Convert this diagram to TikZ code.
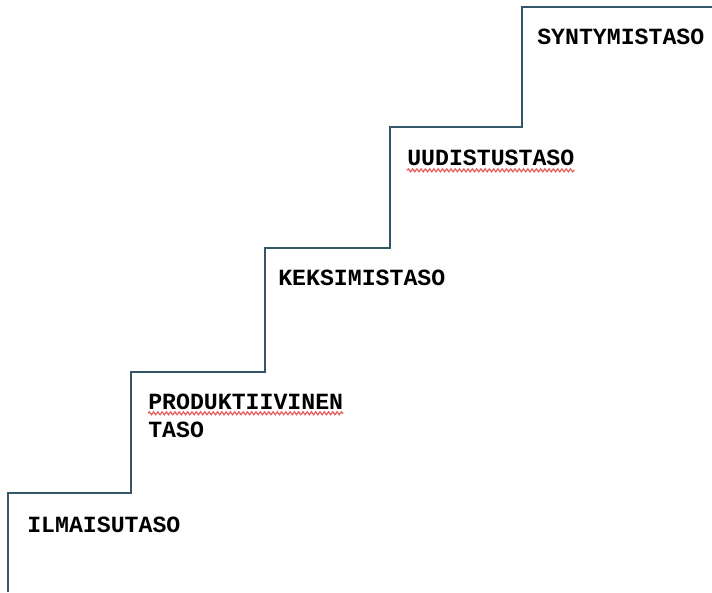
\documentclass[tikz,border=0pt]{standalone}
\usepackage{fontspec}
\setmonofont{Liberation Mono}
\usepackage{xcolor}
\usepackage{tikz}
\usetikzlibrary{decorations.pathmorphing}
\definecolor{stairslate}{RGB}{52,86,104}
\definecolor{squigglered}{RGB}{232,92,92}
\tikzset{
  stairline/.style={draw=stairslate,line width=1.5pt,line join=miter},
  levellabel/.style={anchor=base west,inner sep=0pt,align=left,
    font=\fontsize{17.4pt}{21.4pt}\selectfont\ttfamily\bfseries},
  spellmark/.style={draw=squigglered,line width=0.9pt,
    decorate,decoration={snake,segment length=3.2pt,amplitude=1.1pt}}
}

\begin{document}
\begin{tikzpicture}[x=0.75pt,y=-0.75pt]
  \useasboundingbox (0,0) rectangle (712,592);
  % the stairs
  \coordinate (foot) at (8,592);
  \coordinate (top) at (712,7);
  \draw[stairline] (foot) |- (131,493) |- (265,372) |- (390,248)
    |- (522,127) |- (top);
  % level names, bottom to top
  \node[levellabel] (ilmaisu) at (27,532) {ILMAISUTASO};
  \node[levellabel] (produkt) at (148,409) {PRODUKTIIVINEN};
  \node[levellabel] (taso) at (148,437) {TASO};
  \node[levellabel] (keksimis) at (278,285) {KEKSIMISTASO};
  \node[levellabel] (uudistus) at (407,165) {UUDISTUSTASO};
  \node[levellabel] (syntymis) at (537,45) {SYNTYMISTASO};
  % spelling marks
  \draw[spellmark] ([yshift=-3.2pt]produkt.base west) -- ([yshift=-3.2pt]produkt.base east);
  \draw[spellmark] ([yshift=-4pt]uudistus.base west) -- ([yshift=-4pt]uudistus.base east);
\end{tikzpicture}
\end{document}
